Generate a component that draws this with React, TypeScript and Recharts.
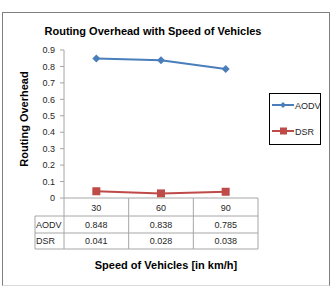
import React from 'react';
import { LineChart, Line, XAxis, YAxis, Legend } from 'recharts';

const speeds = ['30', '60', '90'];
const aodv = [0.848, 0.838, 0.785];
const dsr = [0.041, 0.028, 0.038];
const yTicks = [0, 0.1, 0.2, 0.3, 0.4, 0.5, 0.6, 0.7, 0.8, 0.9];

const data = speeds.map((s, i) => ({ speed: s, AODV: aodv[i], DSR: dsr[i] }));

const FONT = '"Liberation Sans", Arial, sans-serif';
const GRID = '#a6a6a6';
const TEXT = '#262626';
const AODV_COLOR = '#4a7ebb';
const DSR_COLOR = '#be4b48';
const ROW_H = [18, 17, 16];
const HEAD_W = 29;

// Each x tick draws its column of the data table below the plot.
const TableTick = (props: any) => {
  const { x, y, payload, index, width, visibleTicksCount } = props;
  const count = visibleTicksCount || speeds.length;
  const half = width ? width / count / 2 : payload.offset;
  const left = x - half;
  const right = x + half;
  const r0 = y;
  const r1 = r0 + ROW_H[0];
  const r2 = r1 + ROW_H[1];
  const r3 = r2 + ROW_H[2];
  const i = index;
  const last = i === count - 1;
  const rowLeft = i === 0 ? left - HEAD_W : left;
  return (
    <g>
      <line x1={left} y1={r0} x2={left} y2={r3} stroke={GRID} />
      {last && <line x1={right} y1={r0} x2={right} y2={r3} stroke={GRID} />}
      <line x1={left} y1={r0} x2={right} y2={r0} stroke={GRID} />
      <line x1={rowLeft} y1={r1} x2={right} y2={r1} stroke={GRID} />
      <line x1={rowLeft} y1={r2} x2={right} y2={r2} stroke={GRID} />
      <line x1={rowLeft} y1={r3} x2={right} y2={r3} stroke={GRID} />
      {i === 0 && <line x1={left - HEAD_W} y1={r1} x2={left - HEAD_W} y2={r3} stroke={GRID} />}
      {i === 0 && (
        <>
          <text x={left - HEAD_W + 1} y={r1 + 12} fontSize={9} fontFamily={FONT} fill={TEXT}>AODV</text>
          <text x={left - HEAD_W + 1} y={r2 + 11} fontSize={9} fontFamily={FONT} fill={TEXT}>DSR</text>
        </>
      )}
      <text x={x} y={r0 + 12.5} textAnchor="middle" fontSize={9} fontFamily={FONT} fill={TEXT}>{payload.value}</text>
      <text x={x} y={r1 + 12} textAnchor="middle" fontSize={9} fontFamily={FONT} fill={TEXT}>{aodv[i].toFixed(3)}</text>
      <text x={x} y={r2 + 11} textAnchor="middle" fontSize={9} fontFamily={FONT} fill={TEXT}>{dsr[i].toFixed(3)}</text>
    </g>
  );
};

const LegendBox = (props: any) => {
  const items = props.payload || [];
  return (
    <div
      style={{
        width: 52,
        height: 52,
        border: '1px solid #000',
        boxSizing: 'border-box',
        background: '#fff',
      }}
    >
      <svg width={50} height={50} style={{ display: 'block' }}>
        {items.map((it: any, k: number) => {
          const cy = 11 + k * 26;
          return (
            <g key={it.value}>
              <line x1={2} y1={cy} x2={24} y2={cy} stroke={it.color} strokeWidth={2} />
              {k === 0 ? (
                <path d={`M13,${cy - 3} L16,${cy} L13,${cy + 3} L10,${cy} Z`} fill={it.color} />
              ) : (
                <rect x={10} y={cy - 3.5} width={7} height={7} fill={it.color} />
              )}
              <text x={25} y={cy + 3.5} fontSize={9} fontFamily={FONT} fill={TEXT}>{it.value}</text>
            </g>
          );
        })}
      </svg>
    </div>
  );
};

const Diamond = (props: any) => {
  const { cx, cy } = props;
  if (cx == null || cy == null) return null;
  return <path d={`M${cx},${cy - 4} L${cx + 4},${cy} L${cx},${cy + 4} L${cx - 4},${cy} Z`} fill={AODV_COLOR} />;
};

const Square = (props: any) => {
  const { cx, cy } = props;
  if (cx == null || cy == null) return null;
  return <rect x={cx - 4} y={cy - 4} width={8} height={8} fill={DSR_COLOR} />;
};

export default function App() {
  return (
    <div style={{ position: 'absolute', left: 0, top: 0, width: 334, height: 288, background: '#fff' }}>
      <div
        style={{
          position: 'absolute',
          left: 2,
          top: 12,
          width: 328,
          height: 274,
          border: '1px solid #7f7f7f',
          borderBottomColor: '#d9d9d9',
          boxSizing: 'border-box',
        }}
      />
      <LineChart
        width={334}
        height={288}
        data={data}
        margin={{ top: 50, right: 24, bottom: 39, left: 14 }}
        style={{ position: 'absolute', left: 0, top: 0 }}
      >
        <text x={153} y={35} textAnchor="middle" fontSize={11} fontWeight="bold" fontFamily={FONT} fill="#000">
          Routing Overhead with Speed of  Vehicles
        </text>
        <text
          x={0}
          y={0}
          transform="translate(28,119) rotate(-90)"
          textAnchor="middle"
          fontSize={11}
          fontWeight="bold"
          fontFamily={FONT}
          fill="#000"
        >
          Routing Overhead
        </text>
        <text x={166} y={269} textAnchor="middle" fontSize={11} fontWeight="bold" fontFamily={FONT} fill="#000">
          Speed  of  Vehicles [in km/h]
        </text>
        <XAxis
          dataKey="speed"
          scale="band"
          height={51}
          axisLine={false}
          tickLine={false}
          tickSize={0}
          tickMargin={0}
          tick={<TableTick />}
          interval={0}
        />
        <YAxis
          width={50}
          domain={[0, 0.9]}
          ticks={yTicks}
          interval={0}
          tickSize={4}
          tickMargin={5}
          stroke={GRID}
          tick={{ fontSize: 9, fontFamily: FONT, fill: TEXT }}
          tickFormatter={(v: number) => String(Math.round(v * 10) / 10)}
        />
        <Legend
          layout="vertical"
          align="right"
          verticalAlign="top"
          content={<LegendBox />}
          wrapperStyle={{ position: 'absolute', left: 269, top: 93, width: 52 }}
        />
        <Line
          type="linear"
          dataKey="AODV"
          stroke={AODV_COLOR}
          strokeWidth={2}
          dot={<Diamond />}
          isAnimationActive={false}
        />
        <Line
          type="linear"
          dataKey="DSR"
          stroke={DSR_COLOR}
          strokeWidth={2}
          dot={<Square />}
          isAnimationActive={false}
        />
      </LineChart>
    </div>
  );
}
